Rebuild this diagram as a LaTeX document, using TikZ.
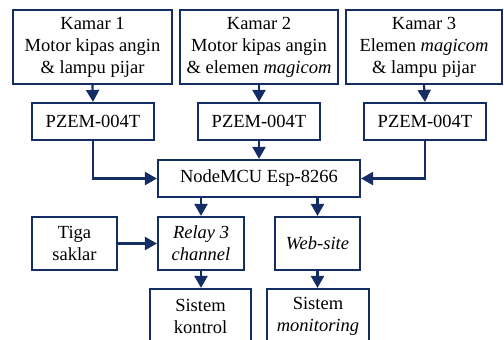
\documentclass[tikz,border=0pt]{standalone}
\usepackage{fontspec}
\setmainfont{Liberation Serif}
\newfontfamily\tnr{Liberation Serif}
\usetikzlibrary{arrows.meta}
\definecolor{navy}{RGB}{20,45,100}
\begin{document}
\begin{tikzpicture}[x=1pt,y=-1pt,
  blk/.style={draw=navy, line width=2.2pt, align=center, inner sep=0pt,
    font=\tnr\fontsize{18.5}{22}\selectfont, text=black},
  arr/.style={draw=navy, line width=2.2pt, -{Triangle[length=12pt,width=13pt]}}]
\useasboundingbox (0,0) rectangle (504,340);
\node[blk, minimum width=159pt, minimum height=74pt] (K1) at (92.5,47) {Kamar 1\\Motor kipas angin\\\& lampu pijar};
\node[blk, minimum width=158pt, minimum height=74pt] (K2) at (259,47) {Kamar 2\\Motor kipas angin\\\& elemen \textit{magicom}};
\node[blk, minimum width=156pt, minimum height=74pt] (K3) at (424,47) {Kamar 3\\Elemen \textit{magicom}\\\& lampu pijar};
\node[blk, minimum width=122pt, minimum height=37pt] (P1) at (93,121.5) {PZEM-004T};
\node[blk, minimum width=122pt, minimum height=37pt] (P2) at (259,121.5) {PZEM-004T};
\node[blk, minimum width=122pt, minimum height=37pt] (P3) at (425,121.5) {PZEM-004T};
\node[blk, minimum width=202pt, minimum height=37pt] (N) at (259,178.5) {NodeMCU Esp-8266};
\node[blk, minimum width=85pt, minimum height=53pt] (T) at (74.5,243.5) {Tiga\\saklar};
\node[blk, minimum width=86pt, minimum height=53pt] (R) at (201,243.5) {\textit{Relay 3}\\\textit{channel}};
\node[blk, minimum width=85pt, minimum height=53pt] (W) at (317.5,243.5) {\textit{Web-site}};
\node[blk, minimum width=101pt, minimum height=55pt] (SK) at (200.5,316.5) {Sistem\\kontrol};
\node[blk, minimum width=102pt, minimum height=55pt] (SM) at (318,316.5) {Sistem\\\textit{monitoring}};
\draw[arr] (K1.south) -- (P1.north);
\draw[arr] (K2.south) -- (P2.north);
\draw[arr] (K3.south) -- (P3.north);
\draw[arr] (P1.south) |- (N.west);
\draw[arr] (P2.south) -- (N.north);
\draw[arr] (P3.south) |- (N.east);
\draw[arr] (R.north |- N.south) -- (R.north);
\draw[arr] (W.north |- N.south) -- (W.north);
\draw[arr] (T.east) -- (R.west);
\draw[arr] (R.south) -- (SK.north -| R.south);
\draw[arr] (W.south) -- (SM.north -| W.south);
\end{tikzpicture}
\end{document}
